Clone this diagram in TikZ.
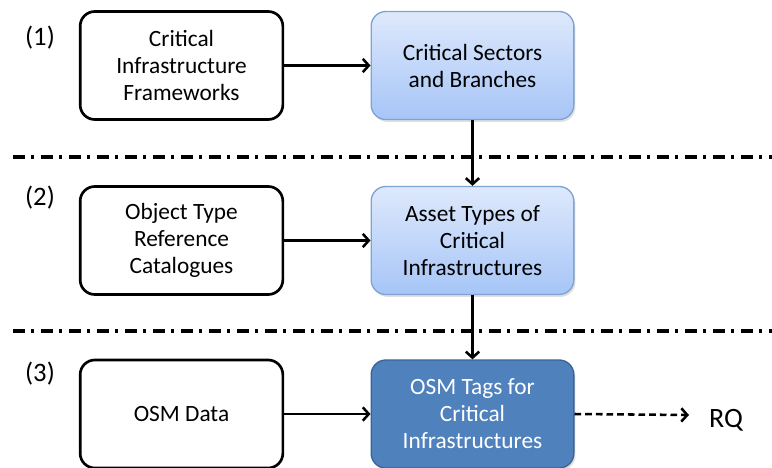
\documentclass[tikz,border=0pt]{standalone}
\usepackage{fontspec}
\setmainfont{Carlito}
\usetikzlibrary{arrows,arrows.meta,positioning,shadows}
\definecolor{lightblueTop}{HTML}{DEE9FC}
\definecolor{lightblueBot}{HTML}{A6C5F7}
\definecolor{lightblueLine}{HTML}{7FA3D3}
\definecolor{osmblue}{HTML}{4F81BD}
\definecolor{osmblueLine}{HTML}{3A6497}
\tikzset{
  srcbox/.style={draw, line width=2pt, rounded corners=11pt, align=center,
    minimum width=152pt, minimum height=81pt, inner sep=2pt,
    font=\fontsize{17.5}{20.25}\selectfont},
  midbox/.style={srcbox, draw=lightblueLine, line width=1pt,
    top color=lightblueTop, bottom color=lightblueBot,
    drop shadow={opacity=0.25, shadow xshift=1.2pt, shadow yshift=-1.8pt}},
  outbox/.style={srcbox, draw=osmblueLine, line width=1pt, fill=osmblue, text=white,
    drop shadow={opacity=0.25, shadow xshift=1.2pt, shadow yshift=-1.8pt}},
  flow/.style={line width=1.9pt, -{Straight Barb[length=4.5pt,width=10pt]}},
  levelsep/.style={line width=2.8pt, dash pattern=on 9pt off 4.5pt on 2.2pt off 5.3pt},
  levellbl/.style={font=\fontsize{20}{24}\selectfont}
}
\begin{document}
\begin{tikzpicture}[x=0.75pt,y=-0.75pt]
\useasboundingbox (0,0) rectangle (772,468);
%levels
\draw (40,38) node (lvl1) [levellbl] {(1)};
\draw (40,198) node (lvl2) [levellbl] {(2)};
\draw (40,374) node (lvl3) [levellbl] {(3)};
\draw (181.5,65.5) node (frame) [srcbox] {Critical\\Infrastructure\\Frameworks};
\draw (472.5,65.5) node (sect) [midbox] {Critical Sectors\\and Branches};
\draw (181.5,240.5) node (cat) [srcbox] {Object Type\\Reference\\Catalogues};
\draw (472.5,240.5) node (asset) [midbox] {Asset Types of\\Critical\\Infrastructures};
\draw (181.5,414) node (osm) [srcbox] {OSM Data};
\draw (472.5,414) node (tags) [outbox] {OSM Tags for\\Critical\\Infrastructures};
\draw (726,420) node (rq) [font=\fontsize{21}{24}\selectfont] {RQ};
\coordinate (rqin) at (689,415);
%separators
\coordinate (sepA1) at (13,157);
\coordinate (sepA2) at (772,157);
\coordinate (sepB1) at (13,331);
\coordinate (sepB2) at (772,331);
\draw[levelsep] (sepA1)--(sepA2);
\draw[levelsep] (sepB1)--(sepB2);
%arrows
\draw[flow] (frame)--(sect);
\draw[flow] (cat)--(asset);
\draw[flow] (osm)--(tags);
\draw[flow] (sect)--(asset);
\draw[flow] (asset)--(tags);
\draw[flow, dash pattern=on 5pt off 3pt] (tags.east)--(rqin);
\end{tikzpicture}
\end{document}
